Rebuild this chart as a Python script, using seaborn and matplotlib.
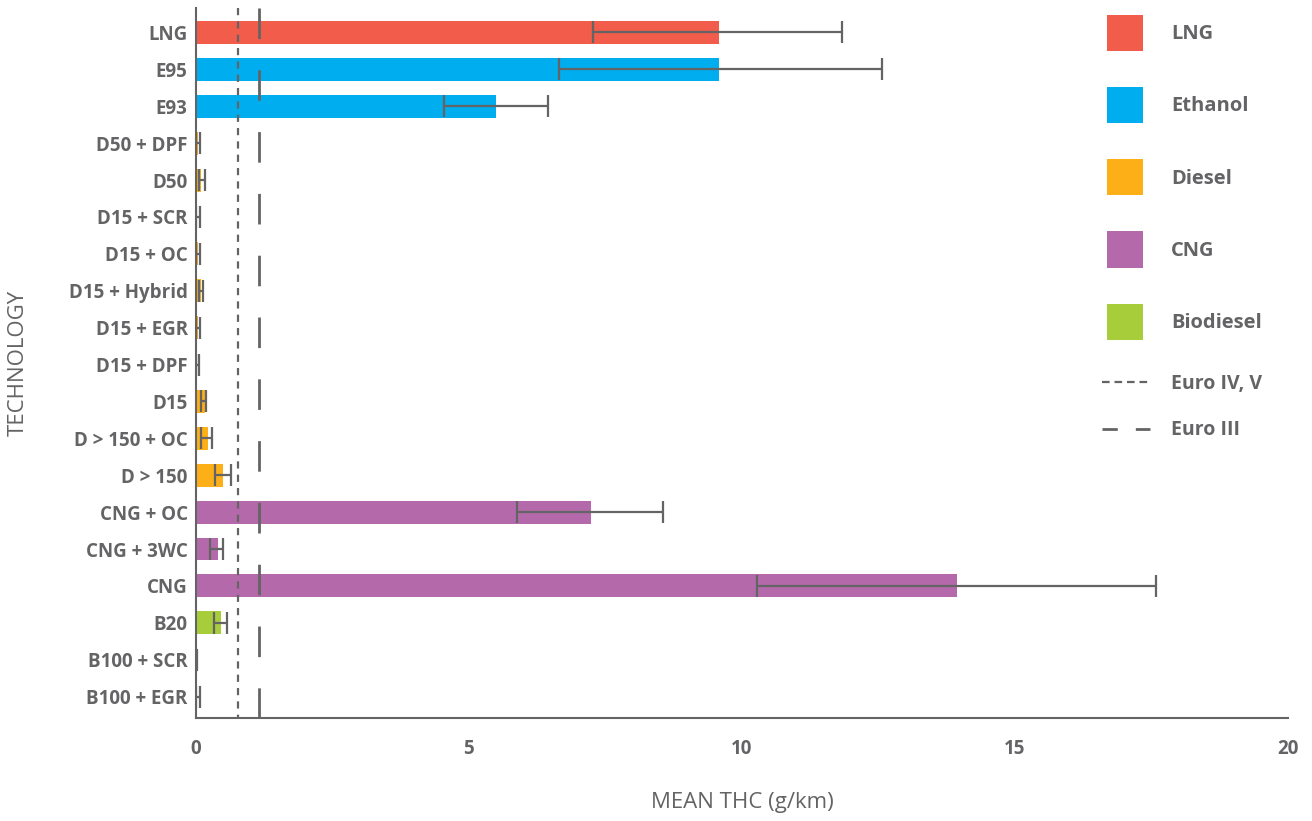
import numpy as np
import pandas as pd
import matplotlib.pyplot as plt
import seaborn as sns
from matplotlib.patches import Patch
from matplotlib.lines import Line2D

# datos
tecnologias = ["LNG", "E95", "E93", "D50 + DPF", "D50", "D15 + SCR", "D15 + OC",
               "D15 + Hybrid", "D15 + EGR", "D15 + DPF", "D15", "D > 150 + OC",
               "D > 150", "CNG + OC", "CNG + 3WC", "CNG", "B20", "B100 + SCR",
               "B100 + EGR"]
combustible = ["LNG", "Ethanol", "Ethanol"] + ["Diesel"] * 10 + ["CNG"] * 3 + ["Biodiesel"] * 3
thc_media = [9.57, 9.57, 5.50, 0.03, 0.09, 0.02, 0.03, 0.09, 0.03, 0.02, 0.165,
             0.22, 0.49, 7.24, 0.41, 13.94, 0.46, 0.01, 0.02]
thc_bajo = [7.27, 6.64, 4.54, 0.0, 0.05, 0.0, 0.0, 0.06, 0.0, 0.0, 0.10,
            0.10, 0.34, 5.88, 0.25, 10.28, 0.33, 0.0, 0.0]
thc_alto = [11.83, 12.57, 6.45, 0.07, 0.17, 0.07, 0.07, 0.13, 0.07, 0.06, 0.19,
            0.29, 0.65, 8.55, 0.49, 17.58, 0.56, 0.02, 0.07]
euro_iv_v = 0.775
euro_iii = 1.15

grupos = ["LNG", "Ethanol", "Diesel", "CNG", "Biodiesel"]
colores = ["#F25C4A", "#00AEEF", "#FCAF17", "#B46AAA", "#A7CD3A"]
gris = "#646466"

df = pd.DataFrame({"tech": tecnologias, "fuel": combustible, "thc": thc_media})

sns.set_style("white")
plt.rcParams["font.family"] = ["Open Sans", "DejaVu Sans"]
plt.rcParams["lines.scale_dashes"] = False

fig = plt.figure(figsize=(13.12, 8.21), dpi=100)
ax = fig.add_axes([196 / 1312, 1 - 718 / 821, 1092 / 1312, 710 / 821])

sns.barplot(data=df, x="thc", y="tech", hue="fuel", order=tecnologias,
            hue_order=grupos, palette=colores, dodge=False, width=0.62,
            saturation=1, linewidth=0, legend=False, errorbar=None, ax=ax)

media = np.array(thc_media)
ax.errorbar(media, np.arange(len(tecnologias)),
            xerr=[media - np.array(thc_bajo), np.array(thc_alto) - media],
            fmt="none", ecolor=gris, elinewidth=1.6, capsize=8, capthick=1.6, zorder=5)

# limites normativos, dibujados de arriba hacia abajo
trans = ax.get_xaxis_transform()
ax.plot([euro_iv_v, euro_iv_v], [1, 0], transform=trans, color=gris, lw=1.6,
        dashes=(5.2, 4.4), zorder=4)
ax.plot([euro_iii, euro_iii], [1, 0], transform=trans, color=gris, lw=2.0,
        dashes=(22, 22.5), zorder=4)

ax.set_xlim(0, 20)
ax.set_ylim(18.58, -0.664)
ax.set_xticks([0, 5, 10, 15, 20])
ax.tick_params(axis="both", length=0, labelsize=13.5, labelcolor=gris)
ax.tick_params(axis="x", pad=15)
ax.tick_params(axis="y", pad=6)
for lab in ax.get_xticklabels() + ax.get_yticklabels():
    lab.set_fontweight("bold")

for s in ["top", "right"]:
    ax.spines[s].set_visible(False)
for s in ["left", "bottom"]:
    ax.spines[s].set_color(gris)
    ax.spines[s].set_linewidth(1.5)

ax.set_xlabel("MEAN THC (g/km)", fontsize=16, color=gris)
ax.set_ylabel("TECHNOLOGY", fontsize=16, color=gris)
ax.xaxis.set_label_coords(0.5, (718 - 802) / 710)
ax.xaxis.label.set_va("center")
ax.yaxis.set_label_coords((18 - 196) / 1092, 0.5)
ax.yaxis.label.set_va("center")

# leyendas
parches = [Patch(facecolor=c, edgecolor="none", label=g) for g, c in zip(grupos, colores)]
leg1 = fig.legend(handles=parches, loc="upper left", bbox_to_anchor=(1107 / 1312, 1 - 15 / 821),
                  frameon=False, fontsize=14.5, handlelength=1.79, handleheight=2.38,
                  labelspacing=1.79, handletextpad=1.39, borderpad=0, borderaxespad=0)
for t in leg1.get_texts():
    t.set_color(gris)
    t.set_fontweight("bold")

lineas = [Line2D([0], [0], color=gris, lw=1.6, dashes=(5.5, 3.5), label="Euro IV, V"),
          Line2D([0], [0], color=gris, lw=2.0, dashes=(11, 13), label="Euro III")]
leg2 = fig.legend(handles=lineas, loc="upper left", bbox_to_anchor=(1102 / 1312, 1 - 374 / 821),
                  frameon=False, fontsize=14, handlelength=2.47, labelspacing=1.36,
                  handletextpad=1.08, borderpad=0, borderaxespad=0)
for t in leg2.get_texts():
    t.set_color(gris)
    t.set_fontweight("bold")

plt.savefig("out.png", dpi=100)
